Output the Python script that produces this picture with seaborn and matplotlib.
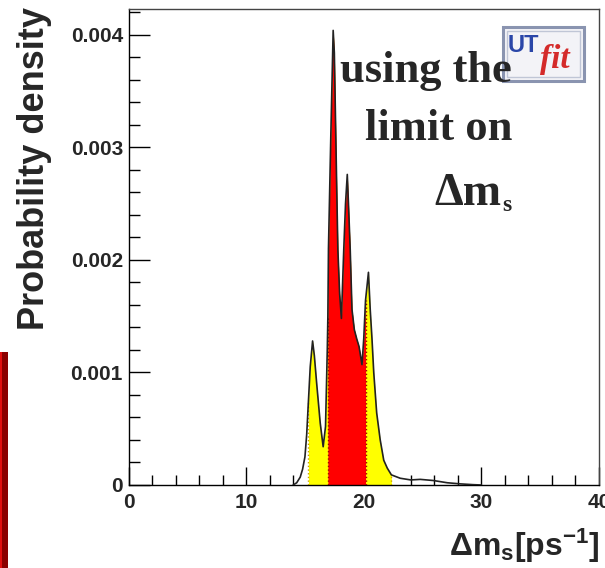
import numpy as np
import pandas as pd
import seaborn as sns
import matplotlib
matplotlib.use("Agg")
import matplotlib.pyplot as plt
from matplotlib.patches import Rectangle

# ---- data ----
dms = [14.0, 14.3, 14.6, 14.8, 15.0, 15.15, 15.3, 15.45, 15.65, 15.8, 16.0, 16.3,
       16.55, 16.75, 16.9, 16.95, 17.0, 17.2, 17.4, 17.5, 17.6, 17.7, 17.8, 17.95,
       18.1, 18.3, 18.45, 18.6, 18.7, 18.85, 19.0, 19.2, 19.4, 19.6, 19.85, 20.0,
       20.15, 20.4, 20.55, 20.7, 20.85, 21.1, 21.4, 21.7, 22.0, 22.35, 23.1, 24.0,
       24.8, 25.9, 27.1, 28.2, 29.3, 30.0]
density = [0, 0.00002, 0.00007, 0.00014, 0.00025, 0.00045, 0.00075, 0.00105, 0.00128,
           0.00115, 0.0009, 0.00055, 0.00034, 0.00052, 0.0012, 0.0015, 0.0021, 0.0031,
           0.00404, 0.00384, 0.00324, 0.00265, 0.00209, 0.0017, 0.00148, 0.00209,
           0.0025, 0.00276, 0.0025, 0.00209, 0.00156, 0.00138, 0.0013, 0.00123,
           0.00107, 0.0013, 0.00164, 0.00189, 0.00156, 0.0013, 0.001, 0.00064, 0.0004,
           0.00022, 0.00015, 0.00009, 0.00006, 0.000045, 0.00005, 0.00004, 0.00002,
           0.00001, 0.000003, 0]
yellow_range = (15.3, 22.35)   # 95% region
red_range = (16.95, 20.15)     # 68% region
x_ticks = [0, 10, 20, 30, 40]
y_ticks = [0, 0.001, 0.002, 0.003, 0.004]
y_tick_labels = ["0", "0.001", "0.002", "0.003", "0.004"]

df = pd.DataFrame({"dms": dms, "density": density})

sns.set_style("white")
plt.rcParams["font.family"] = ["Liberation Sans", "DejaVu Sans"]
plt.rcParams["mathtext.fontset"] = "custom"
plt.rcParams["mathtext.rm"] = "Liberation Sans"
plt.rcParams["mathtext.bf"] = "Liberation Sans:bold"
plt.rcParams["mathtext.it"] = "Liberation Sans:italic"

W, H = 605, 568
fig = plt.figure(figsize=(W / 100, H / 100), dpi=100)
ax = fig.add_axes([128.5 / W, 83 / H, (599 - 128.5) / W, (485 - 9) / H])
ax.set_zorder(0)

x = df["dms"].to_numpy()
y = df["density"].to_numpy()
ym = (x >= yellow_range[0]) & (x <= yellow_range[1])
rm = (x >= red_range[0]) & (x <= red_range[1])
ax.fill_between(x, 0, y, where=ym, color="#ffff00", linewidth=0, zorder=1)
ax.fill_between(x, 0, y, where=rm, color="#ff0000", linewidth=0, zorder=2)
for lo_hi, col in ((yellow_range, "#c8a000"), (red_range, "#a00000")):
    for b in lo_hi:
        yb = y[np.argmin(np.abs(x - b))]
        ax.plot([b, b], [0, yb], ls=":", color=col, lw=1, zorder=3)

sns.lineplot(data=df, x="dms", y="density", ax=ax, color="#222222", lw=1.2,
             zorder=4, sort=False)

ax.set_xlim(0, 40)
ax.set_ylim(0, 0.00423)
ax.set_xticks(x_ticks)
ax.set_xticklabels([str(t) for t in x_ticks])
ax.set_xticks(np.arange(0, 41, 2), minor=True)
ax.set_yticks(y_ticks)
ax.set_yticklabels(y_tick_labels)
ax.set_yticks(np.arange(0, 0.00423, 0.0002), minor=True)
ax.tick_params(which="both", direction="in", bottom=True, left=True, top=False,
               right=False, color="black", width=1)
ax.tick_params(axis="x", which="major", length=13, pad=6)
ax.tick_params(axis="x", which="minor", length=7)
ax.tick_params(axis="y", which="major", length=15, pad=4)
ax.tick_params(axis="y", which="minor", length=8)
for lab in ax.get_xticklabels() + ax.get_yticklabels():
    lab.set_fontweight("bold")
    lab.set_fontsize(15)
ax.set_xlabel("")
ax.set_ylabel("")
for s in ax.spines.values():
    s.set_color("black")
    s.set_linewidth(1.0)
for s in ("top", "right"):
    ax.spines[s].set_color("#444444")

# axis titles
fig.text(35 / W, 1 - 169 / H, "Probability density", rotation=90, ha="center",
         va="center", fontsize=26, fontweight="bold")
fig.text(600 / W, 1 - 556 / H, r"$\mathbf{\Delta m_{s}[ps^{-1}]}$", ha="right",
         va="baseline", fontsize=23)

# UTfit logo (below the annotation text)
fig.patches.append(Rectangle((503 / W, 1 - 81 / H), 81 / W, 54 / H,
                             transform=fig.transFigure, facecolor="#f3f3f7",
                             edgecolor="#8a94b0", lw=2.2, zorder=1))
fig.patches.append(Rectangle((507 / W, 1 - 77 / H), 73 / W, 46 / H,
                             transform=fig.transFigure, facecolor="none",
                             edgecolor="#c0c6d6", lw=1.0, zorder=1.1))
serif = ["Liberation Serif", "DejaVu Serif"]
fig.text(508 / W, 1 - 52 / H, "UT", ha="left", va="baseline", fontsize=17,
         fontweight="bold", color="#2a46a8", zorder=1.2)
fig.text(540 / W, 1 - 68 / H, "fit", ha="left", va="baseline", fontsize=24,
         fontstyle="italic", fontweight="bold", color="#d42a2a", family=serif,
         zorder=1.2)

# annotation text
fig.text(512 / W, 1 - 82 / H, "using the", ha="right", va="baseline",
         fontsize=32, fontweight="bold", family=serif, zorder=3)
fig.text(512 / W, 1 - 140 / H, "limit on", ha="right", va="baseline",
         fontsize=32, fontweight="bold", family=serif, zorder=3)
fig.text(501 / W, 1 - 205 / H, "\u0394m", ha="right", va="baseline",
         fontsize=33, fontweight="bold", family=serif, zorder=3)
fig.text(502 / W, 1 - 211 / H, "s", ha="left", va="baseline",
         fontsize=17, fontweight="bold", family=serif, zorder=3)

# slide edge bar on the left
fig.patches.append(Rectangle((0, 0), 8 / W, (H - 352) / H, transform=fig.transFigure,
                             facecolor="#8b0000", edgecolor="none", zorder=5))
fig.patches.append(Rectangle((0, 0), 2 / W, (H - 352) / H, transform=fig.transFigure,
                             facecolor="#e01010", edgecolor="none", zorder=6))

fig.savefig("out.png", dpi=100)
